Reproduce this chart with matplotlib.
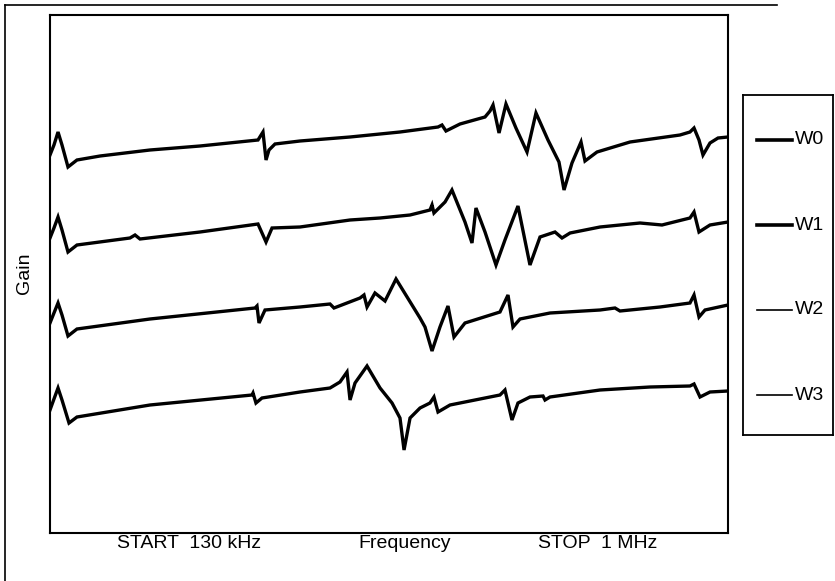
import matplotlib.pyplot as plt
from matplotlib.lines import Line2D

plt.rcParams['font.family'] = ['Liberation Sans', 'DejaVu Sans']

# frequency (kHz) and gain (arbitrary units)
f_w0 = [130, 135.1, 140.3, 145.4, 153.1, 164.6, 194.2, 258.3, 322.5, 396.9, 403.3, 407.2,
        411, 418.7, 450.8, 515, 579.1, 627.9, 633, 638.1, 656.1, 688.2, 694.6, 698.5,
        706.2, 715.1, 727.9, 742.1, 753.6, 769, 783.1, 789.6, 799.8, 811.4, 816.5, 831.9,
        874.3, 938.4, 951.2, 956.4, 962.8, 967.9, 976.9, 987.2, 1000]
g_w0 = [37.8, 38.8, 40.1, 38.8, 36.6, 37.3, 37.7, 38.3, 38.7, 39.3, 40.1, 37.3,
        38.3, 38.9, 39.2, 39.6, 40.1, 40.6, 40.8, 40.2, 40.9, 41.6, 42.2, 42.8,
        40.0, 42.9, 40.5, 38.1, 42.0, 39.3, 37.1, 34.3, 37.0, 39.1, 37.2, 38.1,
        39.1, 39.8, 40.1, 40.5, 39.3, 37.8, 39.0, 39.5, 39.6]

f_w1 = [130, 135.1, 140.3, 145.4, 153.1, 164.6, 232.6, 239.1, 245.5, 322.5, 396.9, 407.2,
        414.9, 450.8, 515, 553.5, 592, 617.6, 620.2, 622.7, 636.9, 645.8, 662.5, 671.5,
        676.6, 688.2, 702.3, 713.8, 730.5, 745.9, 758.8, 778, 787, 797.3, 835.8, 887.1,
        915.3, 951.2, 956.4, 962.8, 976.9, 1000]
g_w1 = [29.5, 30.5, 31.6, 30.3, 28.1, 28.8, 29.5, 29.8, 29.4, 30.1, 30.9, 29.1,
        30.5, 30.6, 31.3, 31.5, 31.8, 32.3, 32.8, 32.0, 33.1, 34.3, 31.1, 29.0,
        32.5, 30.1, 26.8, 29.3, 32.7, 26.8, 29.6, 30.1, 29.5, 30.0, 30.6, 31.0,
        30.8, 31.5, 32.1, 30.1, 30.8, 31.1]

f_w2 = [130, 135.1, 140.3, 145.4, 153.1, 164.6, 258.3, 393.1, 395.6, 398.2, 405.9, 450.8,
        489.3, 494.4, 527.8, 532.9, 536.8, 547, 559.9, 574, 604.8, 611.2, 620.2, 630.4,
        640.7, 648.4, 662.5, 707.4, 717.7, 724.1, 733.1, 771.6, 835.8, 855, 861.4, 912.8,
        951.2, 956.4, 962.8, 970.5, 1000]
g_w2 = [21.0, 22.0, 23.0, 21.8, 19.7, 20.4, 21.4, 22.5, 22.7, 21.0, 22.3, 22.6,
        22.9, 22.5, 23.5, 23.8, 22.6, 24.0, 23.2, 25.4, 21.5, 20.6, 18.2, 20.6,
        22.7, 19.6, 21.0, 22.1, 23.8, 20.6, 21.4, 22.0, 22.3, 22.5, 22.2, 22.6,
        23.0, 23.8, 21.6, 22.3, 22.8]

f_w3 = [130, 135.1, 140.3, 145.4, 154.4, 164.6, 258.3, 389.2, 390.5, 394.3, 402, 450.8,
        489.3, 502.1, 511.1, 515, 521.4, 536.8, 553.5, 568.9, 579.1, 584.3, 592, 604.8,
        617.6, 622.7, 627.9, 643.3, 707.4, 713.8, 722.8, 730.5, 745.9, 762.6, 765.2, 771.6,
        835.8, 899.9, 951.2, 956.4, 964.1, 976.9, 1000]
g_w3 = [12.3, 13.4, 14.5, 13.3, 11.0, 11.6, 12.8, 13.8, 14.0, 13.0, 13.5, 14.1,
        14.5, 15.1, 16.1, 13.3, 15.0, 16.7, 14.5, 13.0, 11.5, 8.3, 11.5, 12.5,
        13.0, 13.6, 12.1, 12.8, 13.8, 14.3, 11.3, 13.0, 13.6, 13.7, 13.3, 13.6,
        14.3, 14.6, 14.7, 14.9, 13.6, 14.1, 14.2]

names = ['W0', 'W1', 'W2', 'W3']
legend_widths = [2.6, 2.6, 1.2, 1.2]

fig = plt.figure(figsize=(8.35, 5.81), dpi=100)
ax = fig.add_axes([50 / 835, 1 - 533 / 581, 678 / 835, 518 / 581])

for f, g in [(f_w0, g_w0), (f_w1, g_w1), (f_w2, g_w2), (f_w3, g_w3)]:
    ax.plot(f, g, color='black', linewidth=2.4, solid_joinstyle='miter')

ax.set_xlim(130, 1000)
ax.set_ylim(0, 51.8)
ax.set_xticks([])
ax.set_yticks([])
for s in ax.spines.values():
    s.set_linewidth(1.5)

# outer frame (left and top only)
fig.add_artist(Line2D([5 / 835, 5 / 835], [0, 1 - 5 / 581], color='black', lw=1.2))
fig.add_artist(Line2D([5 / 835, 777 / 835], [1 - 5 / 581, 1 - 5 / 581], color='black', lw=1.2))

# labels under the plot
fig.text(189 / 835, 1 - 544 / 581, 'START  130 kHz', ha='center', va='center', fontsize=14)
fig.text(405 / 835, 1 - 544 / 581, 'Frequency', ha='center', va='center', fontsize=14)
fig.text(598 / 835, 1 - 544 / 581, 'STOP  1 MHz', ha='center', va='center', fontsize=14)
fig.text(25 / 835, 1 - 273 / 581, 'Gain', ha='center', va='center', rotation=90, fontsize=14)

# legend box
lax = fig.add_axes([743 / 835, 1 - 435 / 581, 90 / 835, 340 / 581])
lax.set_xlim(0, 1)
lax.set_ylim(0, 1)
lax.set_xticks([])
lax.set_yticks([])
for s in lax.spines.values():
    s.set_linewidth(1.3)
for i, (name, lw) in enumerate(zip(names, legend_widths)):
    yy = 1 - (45 + i * 85) / 340
    lax.plot([0.155, 0.54], [yy, yy], color='black', linewidth=lw)
    lax.text(0.58, yy, name, ha='left', va='center', fontsize=14)

fig.savefig('out.png', dpi=100)
